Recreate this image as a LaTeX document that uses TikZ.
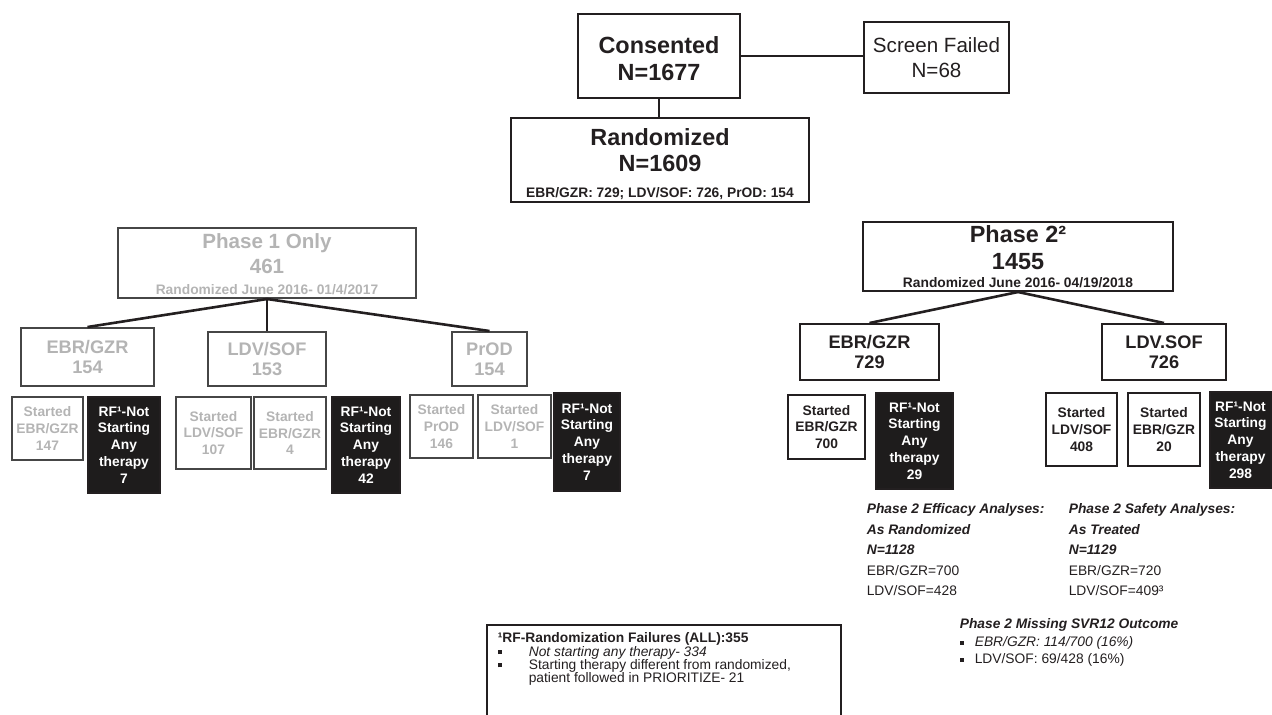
\documentclass[tikz,border=0pt]{standalone}
\usepackage{fontspec}
\setmainfont{Liberation Sans}
\definecolor{ink}{RGB}{35,31,32}
\definecolor{greyline}{RGB}{70,70,70}
\definecolor{greytext}{RGB}{180,180,180}
\definecolor{rfblack}{RGB}{30,28,28}
\newcommand\bigtxt{\fontsize{11.7}{13.2}\selectfont\bfseries}
\newcommand\midtxt{\fontsize{10.3}{12.5}\selectfont\bfseries}
\newcommand\armtxt{\fontsize{9.1}{10}\selectfont\bfseries}
\newcommand\smtxt{\fontsize{6.9}{8.4}\selectfont\bfseries}
\newcommand\tinyline{\fontsize{6.9}{8}\selectfont}
\newcommand\notetxt{\fontsize{6.9}{10.25}\selectfont}
\newcommand\sqbul{\raisebox{0.25ex}{\rule{2pt}{2pt}}}

\begin{document}
\begin{tikzpicture}[x=0.5pt, y=-0.5pt, thick,
  box/.style={draw=ink, line width=1pt, inner sep=0pt, align=center, text=ink},
  grey/.style={box, draw=greyline, text=greytext},
  rfbox/.style={box, fill=rfblack, text=white, font=\smtxt},
  dims/.style 2 args={minimum width=#1, minimum height=#2},
  link/.style={draw=ink, line width=1.3pt},
  note/.style={inner sep=0pt, align=left, text=ink, font=\notetxt}]
\useasboundingbox (0,0) rectangle (1272,714);

\node [box, dims={81pt}{42pt}, font=\bigtxt] (cons) at (659,56) {\rule{0pt}{11pt}Consented\\N=1677};
\node [box, dims={72.5pt}{35.5pt}, font=\fontsize{10.3}{12.5}\selectfont] (scrn) at (936.5,57.5) {Screen Failed\\N=68};
\node [box, dims={149pt}{42pt}, font=\bigtxt] (rand) at (660,160) {\rule{0pt}{12.5pt}Randomized\\N=1609\\{\tinyline EBR/GZR: 729; LDV/SOF: 726, PrOD: 154}};

\node [grey, dims={149pt}{35pt}, font=\midtxt] (ph1) at (267,263) {\rule{0pt}{8.5pt}Phase 1 Only\\461\\[-1.7pt]{\tinyline Randomized June 2016- 01/4/2017}};
\node [box, dims={155pt}{34.5pt}, font=\bigtxt] (ph2) at (1018,256.5) {Phase 2²\\1455\\[-4.2pt]{\tinyline Randomized June 2016- 04/19/2018}};

\node [grey, dims={66.5pt}{29pt}, font=\armtxt] (a1) at (87.5,357) {EBR/GZR\\154};
\node [grey, dims={59pt}{27pt}, font=\armtxt] (a2) at (267,359) {LDV/SOF\\153};
\node [grey, dims={37.5pt}{27pt}, font=\armtxt] (a3) at (489.5,359) {PrOD\\154};
\node [box, dims={69.5pt}{28pt}, font=\armtxt] (b1) at (869.5,352) {EBR/GZR\\729};
\node [box, dims={62pt}{28pt}, font=\armtxt] (b2) at (1164,352) {LDV.SOF\\726};

\node [grey, dims={35.5pt}{31.5pt}, font=\smtxt] (s1) at (47.5,428.5) {Started\\EBR/GZR\\147};
\node [rfbox, dims={36pt}{48pt}] (r1) at (124,445) {RF¹-Not\\Starting\\Any\\therapy\\7};
\node [grey, dims={37.5pt}{36pt}, font=\smtxt] (s2) at (213.5,433) {Started\\LDV/SOF\\107};
\node [grey, dims={36pt}{36pt}, font=\smtxt] (s3) at (290,433) {Started\\EBR/GZR\\4};
\node [rfbox, dims={34pt}{48pt}] (r2) at (366,445) {RF¹-Not\\Starting\\Any\\therapy\\42};
\node [grey, dims={31.5pt}{31.5pt}, font=\smtxt] (s4) at (441.5,426.5) {Started\\PrOD\\146};
\node [grey, dims={36.5pt}{31.5pt}, font=\smtxt] (s5) at (514.5,426.5) {Started\\LDV/SOF\\1};
\node [rfbox, dims={33pt}{49pt}] (r3) at (587,442) {RF¹-Not\\Starting\\Any\\therapy\\7};

\node [box, dims={38.5pt}{32pt}, font=\smtxt] (t1) at (826.5,427) {Started\\EBR/GZR\\700};
\node [rfbox, dims={38.5pt}{48pt}] (q1) at (914.5,441) {RF¹-Not\\Starting\\Any\\therapy\\29};
\node [box, dims={35.5pt}{36.5pt}, font=\smtxt] (t2) at (1081.5,429.5) {Started\\LDV/SOF\\408};
\node [box, dims={36pt}{36.5pt}, font=\smtxt] (t3) at (1164,429.5) {Started\\EBR/GZR\\20};
\node [rfbox, dims={30.5pt}{48pt}] (q2) at (1240.5,440) {RF¹-Not\\Starting\\Any\\therapy\\298};

\draw [link, line width=0.8pt] (cons.east) -- (cons.east -| scrn.west);
\draw [link, line width=0.8pt] (cons.south) -- (cons.south |- rand.north);
\draw [link] (ph1.south) -- (a1.north);
\draw [link] (ph1.south) -- (a2.north);
\draw [link] (ph1.south) -- (a3.north);
\draw [link] (ph2.south) -- (b1.north);
\draw [link] (ph2.south) -- (b2.north);

\node [note, anchor=north west] (eff) at (866,503) {\textbf{\textit{Phase 2 Efficacy Analyses:}}\\\textbf{\textit{As Randomized}}\\\textbf{\textit{N=1128}}\\EBR/GZR=700\\LDV/SOF=428};
\node [note, anchor=north west] (safe) at (1068,503) {\textbf{\textit{Phase 2 Safety Analyses:}}\\\textbf{\textit{As Treated}}\\\textbf{\textit{N=1129}}\\EBR/GZR=720\\LDV/SOF=409³};
\node [note, anchor=north west, font=\fontsize{6.9}{8.3}\selectfont] (miss) at (959,618) {\textbf{\textit{Phase 2 Missing SVR12 Outcome}}\\[0.7pt]\makebox[7.5pt][l]{\sqbul}\textit{EBR/GZR: 114/700 (16\%)}\\\makebox[7.5pt][l]{\sqbul}LDV/SOF: 69/428 (16\%)};

\node [note, anchor=north west, font=\fontsize{6.9}{6.6}\selectfont] (foot) at (497,632) {\textbf{¹RF-Randomization Failures (ALL):355}\\\makebox[15.5pt][l]{\sqbul}\textit{Not starting any therapy- 334}\\\makebox[15.5pt][l]{\sqbul}Starting therapy different from randomized,\\\hspace*{15.5pt}patient followed in PRIORITIZE- 21};
\draw [draw=ink, line width=1pt] (487,720) |- (841,625) -- (841,720);
\end{tikzpicture}
\end{document}
